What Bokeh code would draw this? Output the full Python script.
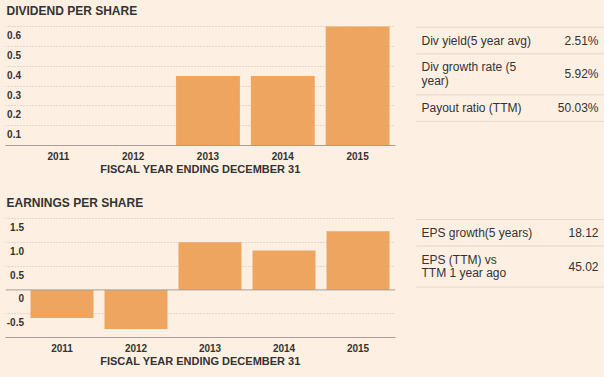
from bokeh.plotting import figure
from bokeh.layouts import gridplot
from bokeh.models import Range1d, FixedTicker, Span, Grid
from bokeh.core.properties import value
from bokeh.embed import file_html
from bokeh.resources import INLINE

# ---------------- data ----------------
years = [2011, 2012, 2013, 2014, 2015]
dividend = [0.0, 0.0, 0.35, 0.35, 0.60]
eps = [-0.59, -0.82, 1.00, 0.83, 1.23]

div_ticks = [0.1, 0.2, 0.3, 0.4, 0.5, 0.6]
div_tick_labels = ["0.1", "0.2", "0.3", "0.4", "0.5", "0.6"]
div_grid = [0.1, 0.2, 0.3, 0.4, 0.5, 0.6]
eps_ticks = [-0.5, 0.0, 0.5, 1.0, 1.5]
eps_tick_labels = ["-0.5", "0", "0.5", "1.0", "1.5"]
eps_grid = [-0.5, 0.5, 1.0, 1.5]

x_title = "FISCAL YEAR ENDING DECEMBER 31"
div_title = "DIVIDEND PER SHARE"
eps_title = "EARNINGS PER SHARE"

div_stat_labels = [["Div yield(5 year avg)"], ["Div growth rate (5", "year)"], ["Payout ratio (TTM)"]]
div_stat_values = ["2.51%", "5.92%", "50.03%"]
eps_stat_labels = [["EPS growth(5 years)"], ["EPS (TTM) vs", "TTM 1 year ago"]]
eps_stat_values = ["18.12", "45.02"]

# ---------------- style ----------------
BG = "#fdf0e2"
BAR = "#eda560"
TXT = "#333333"
GRID = "#c8beb3"
AXIS = "#a69e96"
SEP = "#e3d8cc"
FONT = "Liberation Sans"


def chart(title, vals, ticks, labels, gridvals, xr, y_lo, y_hi, plot_top_px, w, h,
          bottom, right, bar_w, lab_x, lab_dy, title_dy):
    # frame starts at the very top of the cell; y range is extended so that
    # y_hi sits plot_top_px pixels below the top edge
    frame_h = h - bottom
    ppu = (frame_h - plot_top_px) / (y_hi - y_lo)
    y_end = y_hi + plot_top_px / ppu
    p = figure(width=w, height=h, x_range=Range1d(*xr), y_range=Range1d(y_lo, y_end),
               output_backend="svg", toolbar_location=None, y_axis_location=None,
               min_border_left=5, min_border_right=right, min_border_top=0,
               min_border_bottom=bottom)
    p.background_fill_color = BG
    p.border_fill_color = BG
    p.outline_line_color = None

    p.xgrid.visible = False
    p.ygrid.visible = False
    g = Grid(dimension=1, ticker=FixedTicker(ticks=gridvals), grid_line_color=GRID,
             grid_line_dash="1 2", grid_line_width=1)
    p.add_layout(g)

    p.vbar(x=years, top=vals, width=bar_w, fill_color=BAR, line_color=None)

    if y_lo < 0:
        p.add_layout(Span(location=0, dimension="width", line_color=AXIS, line_width=1))

    ax = p.xaxis[0]
    ax.ticker = FixedTicker(ticks=years)
    ax.major_tick_line_color = None
    ax.minor_tick_line_color = None
    ax.axis_line_color = AXIS
    ax.major_label_text_font = FONT
    ax.major_label_text_font_size = "10px"
    ax.major_label_text_font_style = "bold"
    ax.major_label_text_color = TXT
    ax.major_label_standoff = 0
    ax.axis_label = x_title
    ax.axis_label_text_font = FONT
    ax.axis_label_text_font_size = "11px"
    ax.axis_label_text_font_style = "bold"
    ax.axis_label_text_color = TXT
    ax.axis_label_standoff = 0

    p.text(x=[xr[0]] * len(ticks), y=ticks, text=labels, x_offset=lab_x, y_offset=lab_dy,
           text_align="right", text_baseline="middle", text_font=value(FONT),
           text_font_size="10px", text_font_style="bold", text_color=TXT)

    p.text(x=[xr[0]], y=[y_end], text=[title], x_offset=1, y_offset=title_dy,
           text_align="left", text_baseline="middle", text_font=value(FONT),
           text_font_size="12px", text_font_style="bold", text_color=TXT)
    return p


def table(labels, vals, h, top, fr_bottom):
    # frame matches the chart frame in the same row; y range is in pixel rows of the cell
    t = figure(width=204, height=h, x_range=Range1d(0, 204),
               y_range=Range1d(h - fr_bottom, 0),
               x_axis_type=None, y_axis_type=None, output_backend="svg",
               toolbar_location=None, min_border_left=0, min_border_right=0,
               min_border_top=0, min_border_bottom=fr_bottom)
    t.background_fill_color = BG
    t.border_fill_color = BG
    t.outline_line_color = None
    t.xgrid.visible = False
    t.ygrid.visible = False
    bounds = [top]
    for lines in labels:
        bounds.append(bounds[-1] + (26.6 if len(lines) == 1 else 41.0))
    t.segment(x0=[16] * len(bounds), x1=[204] * len(bounds), y0=bounds, y1=bounds,
              line_color=SEP, line_width=1)
    lx, ly, lt = [], [], []
    for i, lines in enumerate(labels):
        for j, s in enumerate(lines):
            lx.append(21)
            ly.append(bounds[i] + 13.4 + 13.5 * j)
            lt.append(s)
    t.text(x=lx, y=ly, text=lt, text_align="left", text_baseline="middle",
           text_font=value(FONT), text_font_size="12px", text_color=TXT)
    vy = [(bounds[i] + bounds[i + 1]) / 2 for i in range(len(vals))]
    t.text(x=[198] * len(vals), y=vy, text=vals, text_align="right", text_baseline="middle",
           text_font=value(FONT), text_font_size="12px", text_color=TXT)
    return t


p1 = chart(div_title, dividend, div_ticks, div_tick_labels, div_grid,
           (2011 - 53 / 75, 2015 + 38 / 75), 0.0, 0.6, 26, 400, 190,
           45, 4, 64 / 75, 15.5, 8.5, 10.5)
p2 = chart(eps_title, eps, eps_ticks, eps_tick_labels, eps_grid,
           (2011 - 56.5 / 74, 2015 + 37.5 / 74), -1.0, 1.5, 28, 400, 187,
           40, 5, 63 / 74, 18.5, 8.5, 12.5)
t1 = table(div_stat_labels, div_stat_values, 190, 26.7, 45)
t2 = table(eps_stat_labels, eps_stat_values, 187, 29, 40)

layout = gridplot([[p1, t1], [p2, t2]], toolbar_location=None)
layout.styles = {"background-color": BG}
html = file_html(layout, INLINE)
html = html.replace("<body>", '<body style="margin:0;background-color:%s">' % BG, 1)
open("out.html", "w").write(html)
